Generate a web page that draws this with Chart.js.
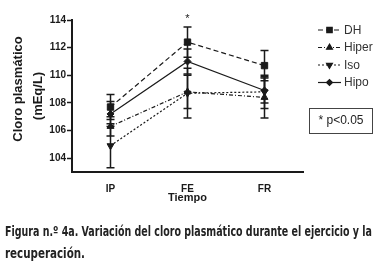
<!DOCTYPE html>
<html>
<head>
<meta charset="utf-8">
<script src="https://cdn.jsdelivr.net/npm/chart.js@4.4.0/dist/chart.umd.min.js"></script>
<style>
  body { margin: 0; background: #fff; }
  canvas { display: block; }
</style>
</head>
<body>
<canvas id="cloro-chart" width="382" height="267"></canvas>
<script>
// Data
const tiempos = ["IP", "FE", "FR"];
const dh = [107.7, 112.4, 110.7];
const hiper = [106.3, 108.8, 108.4];
const iso = [104.9, 108.7, 108.8];
const hipo = [107.2, 111.0, 108.9];
// error bar half-lengths
const dhErr = [0.9, 1.1, 1.1];
const hiperErr = [0.7, 1.2, 1.5];
const isoErr = [1.6, 1.8, 1.2];
const hipoErr = [0.9, 0.9, 0.9];
const yTicks = [104, 106, 108, 110, 112, 114];

const ink = "#1a1a1a";
const axisFont = "'Liberation Sans', Arial, sans-serif";

function serie(label, data, err, dash, style, radius, rotation) {
    return {
        label: label,
        data: data,
        err: err,
        borderColor: ink,
        backgroundColor: ink,
        borderWidth: 1.2,
        borderDash: dash,
        pointStyle: style,
        pointRadius: radius,
        pointRotation: rotation || 0,
        pointBackgroundColor: ink,
        pointBorderColor: ink,
        pointBorderWidth: 1,
        tension: 0
    };
}

// draw a line of text squeezed to a given width
function fitText(ctx, text, x, y, width) {
    const k = width / ctx.measureText(text).width;
    ctx.save();
    ctx.translate(x, y);
    ctx.scale(k, 1);
    ctx.fillText(text, 0, 0);
    ctx.restore();
}

// Error bars, legend, labels and caption
const extras = {
    id: "extras",
    beforeDatasetsDraw(chart) {
        const ctx = chart.ctx;
        const y = chart.scales.y;
        ctx.save();
        ctx.strokeStyle = ink;
        ctx.lineWidth = 1.5;
        chart.data.datasets.forEach((ds, di) => {
            const meta = chart.getDatasetMeta(di);
            ds.data.forEach((v, i) => {
                const x = meta.data[i].x;
                const top = y.getPixelForValue(v + ds.err[i]);
                const bot = y.getPixelForValue(v - ds.err[i]);
                ctx.beginPath();
                ctx.moveTo(x, top); ctx.lineTo(x, bot);
                ctx.moveTo(x - 4, top); ctx.lineTo(x + 4, top);
                ctx.moveTo(x - 4, bot); ctx.lineTo(x + 4, bot);
                ctx.stroke();
            });
        });
        ctx.restore();
    },
    afterDraw(chart) {
        const ctx = chart.ctx;
        const x = chart.scales.x;
        ctx.save();
        ctx.fillStyle = ink;

        // asterisk above FE
        ctx.font = "11px " + axisFont;
        ctx.textAlign = "center";
        ctx.textBaseline = "middle";
        ctx.fillText("*", x.getPixelForValue(1), 19);

        // axis titles
        ctx.font = "bold 11px " + axisFont;
        ctx.fillText("Tiempo", x.getPixelForValue(1), 198);
        ctx.save();
        ctx.translate(18, 89);
        ctx.rotate(-Math.PI / 2);
        ctx.font = "bold 13px " + axisFont;
        ctx.fillText("Cloro plasmático", 0, 0);
        ctx.fillText("(mEq/L)", -7, 20);
        ctx.restore();

        // legend
        ctx.font = "12px " + axisFont;
        ctx.textAlign = "left";
        const rows = [30, 47.5, 65, 82.5];
        chart.data.datasets.forEach((ds, i) => {
            const ly = rows[i];
            ctx.strokeStyle = ink;
            ctx.lineWidth = 1.2;
            ctx.setLineDash(ds.borderDash);
            ctx.beginPath();
            ctx.moveTo(318, ly); ctx.lineTo(341, ly);
            ctx.stroke();
            ctx.setLineDash([]);
            Chart.helpers.drawPoint(ctx, {
                pointStyle: ds.pointStyle,
                radius: ds.pointRadius * 0.85,
                rotation: ds.pointRotation,
                borderWidth: 1
            }, 329.5, ly);
            ctx.fillStyle = "#333";
            ctx.fillText(ds.label, 344, ly + 0.5);
            ctx.fillStyle = ink;
        });

        // significance box
        ctx.strokeStyle = "#444";
        ctx.lineWidth = 1;
        ctx.strokeRect(309.5, 108.5, 63, 25);
        ctx.fillStyle = "#222";
        ctx.textAlign = "center";
        ctx.fillText("* p<0.05", 341, 121);

        // caption, squeezed to the widths of the original
        ctx.fillStyle = "#222";
        ctx.textAlign = "left";
        ctx.font = "bold 14px 'DejaVu Sans Condensed', 'Liberation Sans Narrow', sans-serif";
        fitText(ctx, "Figura n.º 4a. Variación del cloro plasmático durante el ejercicio y la", 5, 232, 367);
        fitText(ctx, "recuperación.", 5, 254, 80);
        ctx.restore();
    }
};

new Chart(document.getElementById("cloro-chart"), {
    type: "line",
    data: {
        labels: tiempos,
        datasets: [
            serie("DH", dh, dhErr, [5, 3], "rect", 4.5),
            serie("Hiper", hiper, hiperErr, [4, 2, 1, 2], "triangle", 4),
            serie("Iso", iso, isoErr, [2, 2], "triangle", 4, 180),
            serie("Hipo", hipo, hipoErr, [], "rectRot", 3.5)
        ]
    },
    options: {
        responsive: false,
        animation: false,
        layout: { padding: { left: 0, top: 20, right: 79, bottom: 0 } },
        plugins: {
            legend: { display: false },
            tooltip: { enabled: false }
        },
        scales: {
            x: {
                offset: true,
                grid: { display: false },
                border: { display: true, color: ink, width: 2 },
                ticks: { color: ink, padding: 3, font: { family: axisFont, size: 10, weight: "bold" } },
                afterFit(scale) { scale.height = 95; }
            },
            y: {
                min: 103,
                max: 114,
                afterBuildTicks(scale) { scale.ticks = yTicks.map(v => ({ value: v })); },
                grid: { drawOnChartArea: false, tickLength: 5, color: ink, tickWidth: 1.5 },
                border: { display: true, color: ink, width: 2 },
                ticks: { color: ink, padding: 1, font: { family: axisFont, size: 10, weight: "bold" } },
                afterFit(scale) { scale.width = 72; }
            }
        }
    },
    plugins: [extras]
});
</script>
</body>
</html>
